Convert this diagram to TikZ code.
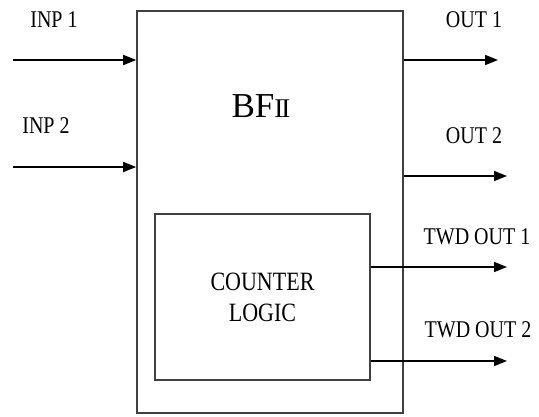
\documentclass[tikz,border=0pt]{standalone}
\usepackage{fontspec}
\setmainfont{Liberation Serif}
\usetikzlibrary{arrows.meta,positioning}

% text in the drawing is set a little taller than wide
\newcommand{\tall}[1]{\scalebox{1}[1.2]{#1}}

\tikzset{
  block/.style={draw=black!75,line width=1.6pt,inner sep=0pt},
  sig/.style={line width=1.6pt,-{Triangle[length=13pt,width=10pt]}},
  lbl/.style={inner sep=0pt,font=\fontsize{20}{20}\selectfont},
}

\begin{document}
\begin{tikzpicture}[x=1pt,y=-1pt]
  \useasboundingbox[fill=white] (0,0) rectangle (539,416);

  % the two boxes
  \node[block,minimum width=266pt,minimum height=402pt] (bf) at (270,212) {};
  \node[block,minimum width=215pt,minimum height=166pt,align=center,
        font=\fontsize{22}{31}\selectfont] (logic) at (262.5,297)
    {\tall{COUNTER}\\\tall{LOGIC}};
  \node[inner sep=0pt,font=\fontsize{35}{35}\selectfont] (name) at (261,106)
    {BF{\fontsize{27}{27}\selectfont I\kern-2pt I}};

  % free ends of the signal lines
  \coordinate (in1) at (13,60);
  \coordinate (in2) at (13,167);
  \coordinate (out1) at (498,60);
  \coordinate (out2) at (507,176);
  \coordinate (twd1) at (507,267);
  \coordinate (twd2) at (507,361);

  \draw[sig] (in1) -- (in1 -| bf.west);
  \draw[sig] (in2) -- (in2 -| bf.west);
  \draw[sig] (out1 -| bf.east) -- (out1);
  \draw[sig] (out2 -| bf.east) -- (out2);
  \draw[sig] (twd1 -| logic.east) -- (twd1);
  \draw[sig] (twd2 -| logic.east) -- (twd2);

  % labels
  \node[lbl] (l-in1) at (54,20) {\tall{INP 1}};
  \node[lbl] (l-in2) at (46,126) {\tall{INP 2}};
  \node[lbl] (l-out1) at (474,20) {\tall{OUT 1}};
  \node[lbl] (l-out2) at (474,136) {\tall{OUT 2}};
  \node[lbl] (l-twd1) at (477,237) {\tall{TWD OUT 1}};
  \node[lbl] (l-twd2) at (478,330) {\tall{TWD OUT 2}};
\end{tikzpicture}
\end{document}
